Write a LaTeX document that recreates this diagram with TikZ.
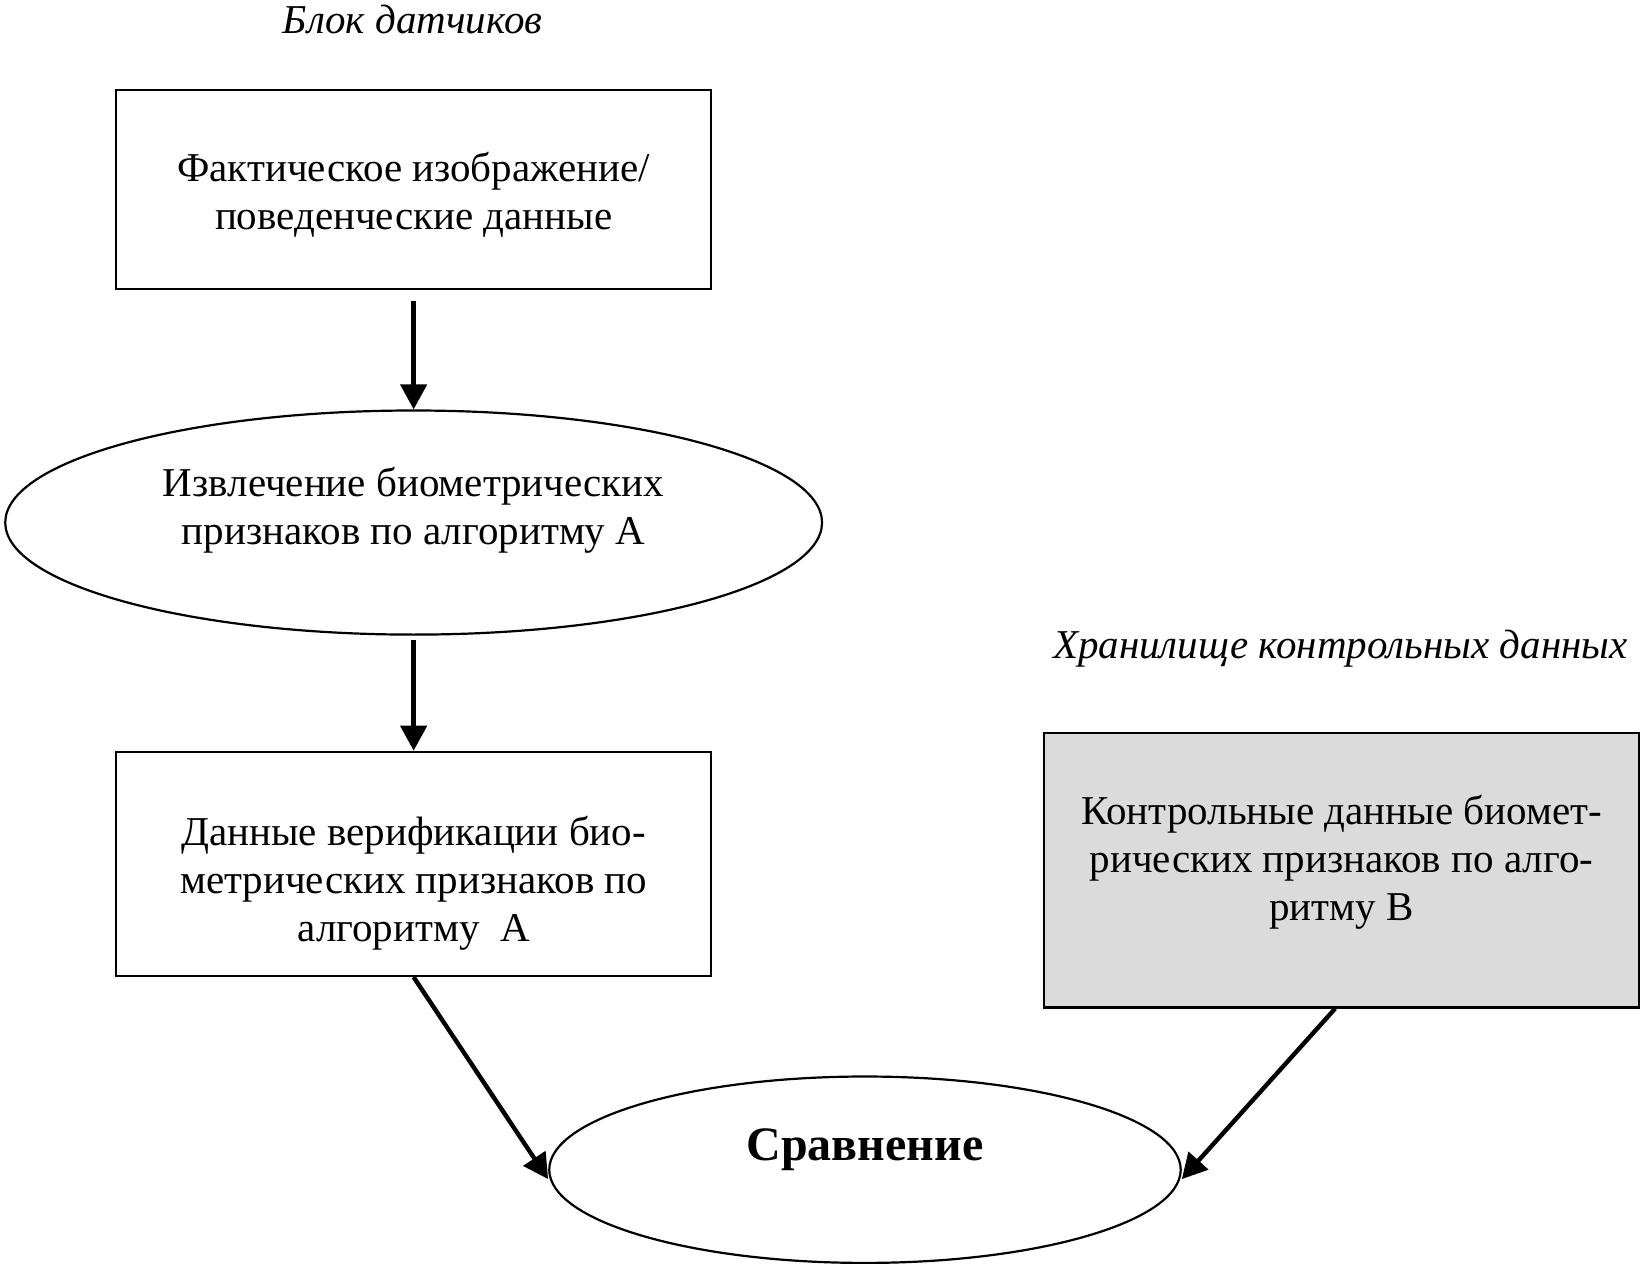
\documentclass[tikz,border=0pt]{standalone}
\usepackage{fontspec}
\setmainfont{Liberation Serif}
\usetikzlibrary{arrows.meta,shapes.geometric,calc}
\begin{document}
\def\px{0.5236pt}
\begin{tikzpicture}[x=0.5236pt,y=-0.5236pt,
  txt/.style={align=center,font=\fontsize{20.5pt}{24pt}\selectfont,inner sep=0pt},
  captxt/.style={font=\fontsize{20.5pt}{24pt}\selectfont\itshape,inner sep=0pt},
  boxst/.style={draw,line width=1.15pt,rectangle,inner sep=0pt},
  ell/.style={draw,line width=1.1pt,ellipse,inner sep=0pt},
  arr/.style={line width=2.2pt,-{Triangle[length=12.5pt,width=13pt]}}]
\useasboundingbox (0,0) rectangle (1568,1207);
\node[captxt] (lab1) at (394,19) {Блок датчиков};
\node[captxt] (lab2) at (1280,619) {Хранилище контрольных данных};
\node[boxst,minimum width=568*\px,minimum height=190*\px,
  label={[txt,yshift=-5*\px]center:{Фактическое изображение/\\поведенческие данные}}] (b1) at (395,181) {};
\node[ell,minimum width=780*\px,minimum height=214*\px,
  label={[txt,yshift=12*\px]center:{Извлечение биометрических\\признаков по алгоритму А}}] (e1) at (395,499) {};
\node[boxst,minimum width=568*\px,minimum height=214*\px,
  label={[txt,yshift=-18*\px]center:{Данные верификации био-\\метрических признаков по\\алгоритму\ \ А}}] (b2) at (395,825) {};
\node[boxst,fill=black!14,minimum width=568*\px,minimum height=262*\px,
  label={[txt,yshift=8*\px]center:{Контрольные данные биомет-\\рических признаков по алго-\\ритму В}}] (b3) at (1281,831) {};
\node[ell,minimum width=603*\px,minimum height=178*\px,
  label={[inner sep=0pt,font=\fontsize{24pt}{28pt}\selectfont\bfseries,yshift=19*\px]center:{Сравнение}}] (e2) at (826,1117) {};
\draw[arr] ([yshift=-10*\px]b1.south) -- (e1.north);
\draw[arr] ([yshift=-4*\px]e1.south) -- (b2.north);
\draw[arr] (b2.south) -- ([yshift=-9*\px]e2.west);
\draw[arr] ([xshift=-6*\px]b3.south) -- ([yshift=-9*\px]e2.east);
\end{tikzpicture}
\end{document}
